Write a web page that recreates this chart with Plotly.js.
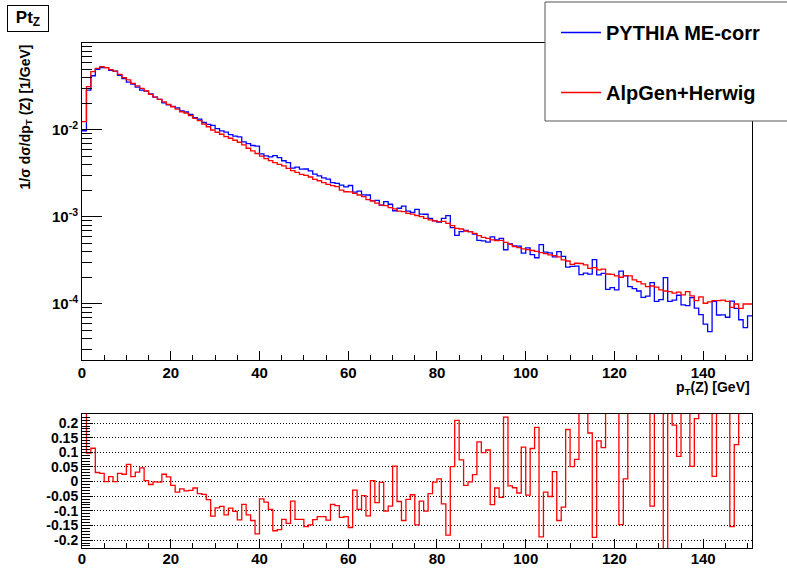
<!DOCTYPE html>
<html><head><meta charset="utf-8">
<script src="https://cdn.plot.ly/plotly-3.0.1.min.js"></script>
<style>html,body{margin:0;padding:0;background:#fff}#chart{width:787px;height:568px}</style>
</head><body><div id="chart"></div>
<script>
// pT(Z) histograms, 1 GeV bins starting at 0 GeV
const BIN_START = 0, BIN_WIDTH = 1;

const pythiaMEcorr = [0.00980,0.0287,0.0420,0.0497,0.0520,0.0520,0.0485,0.0476,0.0425,0.0389,
 0.0355,0.0338,0.0311,0.0287,0.0280,0.0260,0.0239,0.0225,0.0205,0.0194,
 0.0187,0.0180,0.0166,0.0161,0.0151,0.0139,0.0133,0.0122,0.0116,0.0113,
 0.01035,0.00976,0.00946,0.00884,0.00849,0.00832,0.00730,0.00696,0.00663,0.00654,
 0.00532,0.00503,0.00492,0.00507,0.00482,0.00443,0.00422,0.00365,0.00374,0.00355,
 0.00356,0.00338,0.00311,0.00297,0.00282,0.00273,0.00248,0.00243,0.00232,0.00222,
 0.00230,0.00193,0.00198,0.00180,0.00179,0.00153,0.00155,0.00137,0.00150,0.00140,
 0.00118,0.00126,0.00133,0.00117,0.00113,0.00122,0.00108,0.001075,0.000965,0.000902,
 0.000875,0.000964,0.001034,0.000755,0.000613,0.000678,0.000699,0.000679,0.000634,0.000537,
 0.000530,0.000514,0.000592,0.000547,0.000568,0.000420,0.000492,0.000466,0.000463,0.000384,
 0.000442,0.000370,0.000340,0.000480,0.000394,0.000387,0.000347,0.000400,0.000352,0.000265,
 0.000271,0.000273,0.000218,0.000226,0.000220,0.000324,0.000216,0.000225,0.000147,0.000154,
 0.000145,0.000238,0.000210,0.000158,0.000150,0.000141,0.000119,0.000123,0.000176,0.000107,
 0.000112,0.000201,0.000107,0.000111,0.000126,0.0000977,0.0000959,0.000118,0.0000897,0.0000756,
 0.0000586,0.0000482,0.000107,0.0000747,0.0000750,0.0000704,0.000108,0.0000888,0.0000659,0.0000535,
 0.0000730];

const alpgenHerwig = [0.01245,0.0315,0.0468,0.0512,0.0535,0.0520,0.0493,0.0476,0.0437,0.0399,
 0.0376,0.0344,0.0321,0.0301,0.0281,0.0257,0.0239,0.0225,0.0210,0.0197,
 0.0185,0.0174,0.0162,0.0156,0.0146,0.0136,0.0128,0.0117,0.0109,0.0100,
 0.00942,0.00893,0.00838,0.00804,0.00762,0.00723,0.00673,0.00617,0.00575,0.00537,
 0.00501,0.00468,0.00445,0.00422,0.00403,0.00386,0.00362,0.00341,0.00326,0.00309,
 0.00301,0.00288,0.00271,0.00261,0.00248,0.00237,0.00229,0.00223,0.00204,0.00195,
 0.00194,0.00187,0.00179,0.00171,0.00158,0.00153,0.00144,0.00137,0.00135,0.00128,
 0.00124,0.00117,0.00115,0.00110,0.00108,0.00104,0.00101,0.000966,0.000925,0.000900,
 0.000883,0.000891,0.000845,0.000794,0.000741,0.000728,0.000690,0.000678,0.000649,0.000610,
 0.000583,0.000569,0.000545,0.000535,0.000537,0.000512,0.000485,0.000456,0.000445,0.000429,
 0.000422,0.000412,0.000403,0.000389,0.000380,0.000367,0.000359,0.000347,0.000321,0.000312,
 0.000285,0.000294,0.000292,0.000282,0.000257,0.000262,0.000246,0.000251,0.000221,0.000219,
 0.000210,0.000203,0.000212,0.000210,0.000189,0.000181,0.000170,0.000158,0.000161,0.000156,
 0.000145,0.000141,0.000139,0.000133,0.000137,0.000127,0.000139,0.000124,0.000109,0.000121,
 0.000102,0.000106,0.000109,0.000109,0.000111,0.000107,0.0000916,0.000100,0.0000890,0.000100,
 0.000100];

// relative difference shown in the lower pad
const relDiff = [0.27,0.097,0.114,0.031,0.028,0.000,0.017,0.000,0.028,0.025,
 0.059,0.017,0.032,0.047,0.003,-0.010,-0.001,-0.002,0.025,0.016,
 -0.013,-0.036,-0.025,-0.032,-0.030,-0.022,-0.041,-0.044,-0.062,-0.118,
 -0.090,-0.085,-0.114,-0.091,-0.102,-0.131,-0.078,-0.114,-0.133,-0.179,
 -0.059,-0.070,-0.095,-0.168,-0.164,-0.129,-0.143,-0.067,-0.129,-0.129,
 -0.154,-0.148,-0.130,-0.120,-0.120,-0.132,-0.078,-0.082,-0.122,-0.120,
 -0.157,-0.029,-0.095,-0.048,-0.117,0.003,-0.072,-0.003,-0.101,-0.084,
 0.053,-0.068,-0.133,-0.061,-0.045,-0.148,-0.067,-0.101,-0.041,-0.002,
 0.009,-0.076,-0.183,0.051,0.209,0.074,-0.013,-0.001,0.024,0.136,
 0.099,0.108,-0.079,-0.022,-0.054,0.220,-0.015,-0.021,-0.039,0.118,
 -0.046,0.113,0.185,-0.189,-0.036,-0.051,0.034,-0.133,-0.087,0.178,
 0.051,0.076,0.34,0.25,0.166,-0.191,0.139,0.116,0.50,0.42,
 0.45,-0.147,0.009,0.33,0.26,0.28,0.43,0.28,-0.084,0.46,
 0.30,-0.30,0.30,0.193,0.086,0.30,0.45,0.052,0.215,0.60,
 0.74,1.2,0.018,0.46,0.48,0.52,-0.154,0.126,0.35,0.87,
 0.37];

const seriesNames = ["PYTHIA ME-corr", "AlpGen+Herwig"];
const seriesColors = ["#0000ff", "#ff0000"];
const ratioTickVals = [0.2,0.15,0.1,0.05,0,-0.05,-0.1,-0.15,-0.2];
const ratioTickText = ["0.2","0.15","0.1","0.05","0","-0.05","-0.1","-0.15","-0.2"];
const logTickVals = [1e-4,1e-3,1e-2];
const logTickText = ["10<sup>-4</sup>","10<sup>-3</sup>","10<sup>-2</sup>"];

// step-histogram helpers (edges + repeated last value)
function stepX(vals){ const x = vals.map((_,i)=>BIN_START+i*BIN_WIDTH); x.push(BIN_START+vals.length*BIN_WIDTH); return x; }
function stepY(vals){ return vals.concat([vals[vals.length-1]]); }

const logMinor = [];
for (let e=-5; e<=-2; e++) for (let m=2; m<=9; m++) logMinor.push(m*Math.pow(10,e));

const W=787, H=568;
const px = v => v/W, py = v => 1 - v/H;
const FONT = {family:"Liberation Sans, Arial, Helvetica, sans-serif", color:"#000", weight:"bold"};
const xMax = BIN_START + pythiaMEcorr.length*BIN_WIDTH;

const traces = [
 {x: stepX(pythiaMEcorr), y: stepY(pythiaMEcorr), type:"scatter", mode:"lines", name: seriesNames[0],
  line:{shape:"hv", color:seriesColors[0], width:1.3}, xaxis:"x", yaxis:"y", legendgroup:"a"},
 {x: stepX(alpgenHerwig), y: stepY(alpgenHerwig), type:"scatter", mode:"lines", name: seriesNames[1],
  line:{shape:"hv", color:seriesColors[1], width:1.3}, xaxis:"x", yaxis:"y", legendgroup:"b"},
 {x: stepX(relDiff), y: stepY(relDiff), type:"scatter", mode:"lines", name:"ratio", showlegend:false,
  line:{shape:"hv", color:seriesColors[1], width:1.3}, xaxis:"x2", yaxis:"y2"}
];

const axX = {
 range:[BIN_START, xMax], showline:true, mirror:true, linecolor:"#000", linewidth:1,
 ticks:"inside", ticklen:9, tickcolor:"#000", tickwidth:1, dtick:20, tick0:0,
 minor:{ticks:"inside", ticklen:5, dtick:5, tickcolor:"#000", tickwidth:1},
 showgrid:false, zeroline:false, tickfont:Object.assign({size:15}, FONT), fixedrange:true
};

const layout = {
 width:W, height:H, margin:{l:0,r:0,t:0,b:0},
 paper_bgcolor:"#fff", plot_bgcolor:"#fff", font:FONT,
 showlegend:true,
 legend:{x:px(556), y:py(13), xanchor:"left", yanchor:"top", bgcolor:"rgba(0,0,0,0)", borderwidth:0,
   font:Object.assign({size:20}, FONT), tracegroupgap:31, itemwidth:40},
 xaxis: Object.assign({}, axX, {domain:[px(82), px(752)], anchor:"y", ticklabelstandoff:-1}),
 yaxis: {domain:[py(360), py(43)], type:"log", range:[-4.644,-1.0], anchor:"x",
   showline:true, mirror:true, linecolor:"#000", linewidth:1,
   tickmode:"array", tickvals:logTickVals, ticktext:logTickText,
   ticks:"inside", ticklen:20, tickcolor:"#000", tickwidth:1,
   minor:{tickmode:"array", tickvals:logMinor, ticks:"inside", ticklen:10, tickcolor:"#000", tickwidth:1},
   showgrid:false, zeroline:false, tickfont:Object.assign({size:15}, FONT), fixedrange:true},
 xaxis2: Object.assign({}, axX, {domain:[px(82), px(752)], anchor:"y2", ticklabelstandoff:-3}),
 yaxis2: {domain:[py(548), py(414)], range:[-0.227,0.231], anchor:"x2",
   showline:true, mirror:true, linecolor:"#000", linewidth:1,
   tickmode:"array", tickvals:ratioTickVals, ticktext:ratioTickText,
   ticks:"inside", ticklen:11, tickcolor:"#000", tickwidth:1,
   minor:{ticks:"inside", ticklen:8, dtick:0.01, tick0:0, tickcolor:"#000", tickwidth:1},
   showgrid:true, gridcolor:"#000", gridwidth:1, griddash:"1px,2px",
   zeroline:false, tickfont:Object.assign({size:14}, FONT), fixedrange:true},
 shapes:[
   {type:"rect", xref:"paper", yref:"paper", x0:px(545), x1:1.05, y0:py(121), y1:py(2),
    fillcolor:"#fff", line:{color:"#555", width:1}, layer:"above"}
 ],
 annotations:[
   {xref:"paper", yref:"paper", x:px(7), y:py(5), xanchor:"left", yanchor:"top", showarrow:false,
    text:"Pt<sub>Z</sub>", width:38, height:23, align:"center", valign:"middle",
    font:Object.assign({size:17}, FONT), bordercolor:"#000", borderwidth:1, borderpad:1, bgcolor:"#fff"},
   {xref:"paper", yref:"paper", x:px(752), y:py(377), xanchor:"right", yanchor:"top", showarrow:false,
    text:"p<sub>T</sub>(Z) [GeV]", font:Object.assign({size:14}, FONT)},
   {xref:"paper", yref:"paper", x:px(26), y:py(43), xanchor:"center", yanchor:"top", showarrow:false, textangle:-90,
    text:"1/σ dσ/dp<sub>T</sub> (Z) [1/GeV]", font:Object.assign({size:14}, FONT)}
 ]
};

Plotly.newPlot("chart", traces, layout, {staticPlot:true, displayModeBar:false});
</script></body></html>
